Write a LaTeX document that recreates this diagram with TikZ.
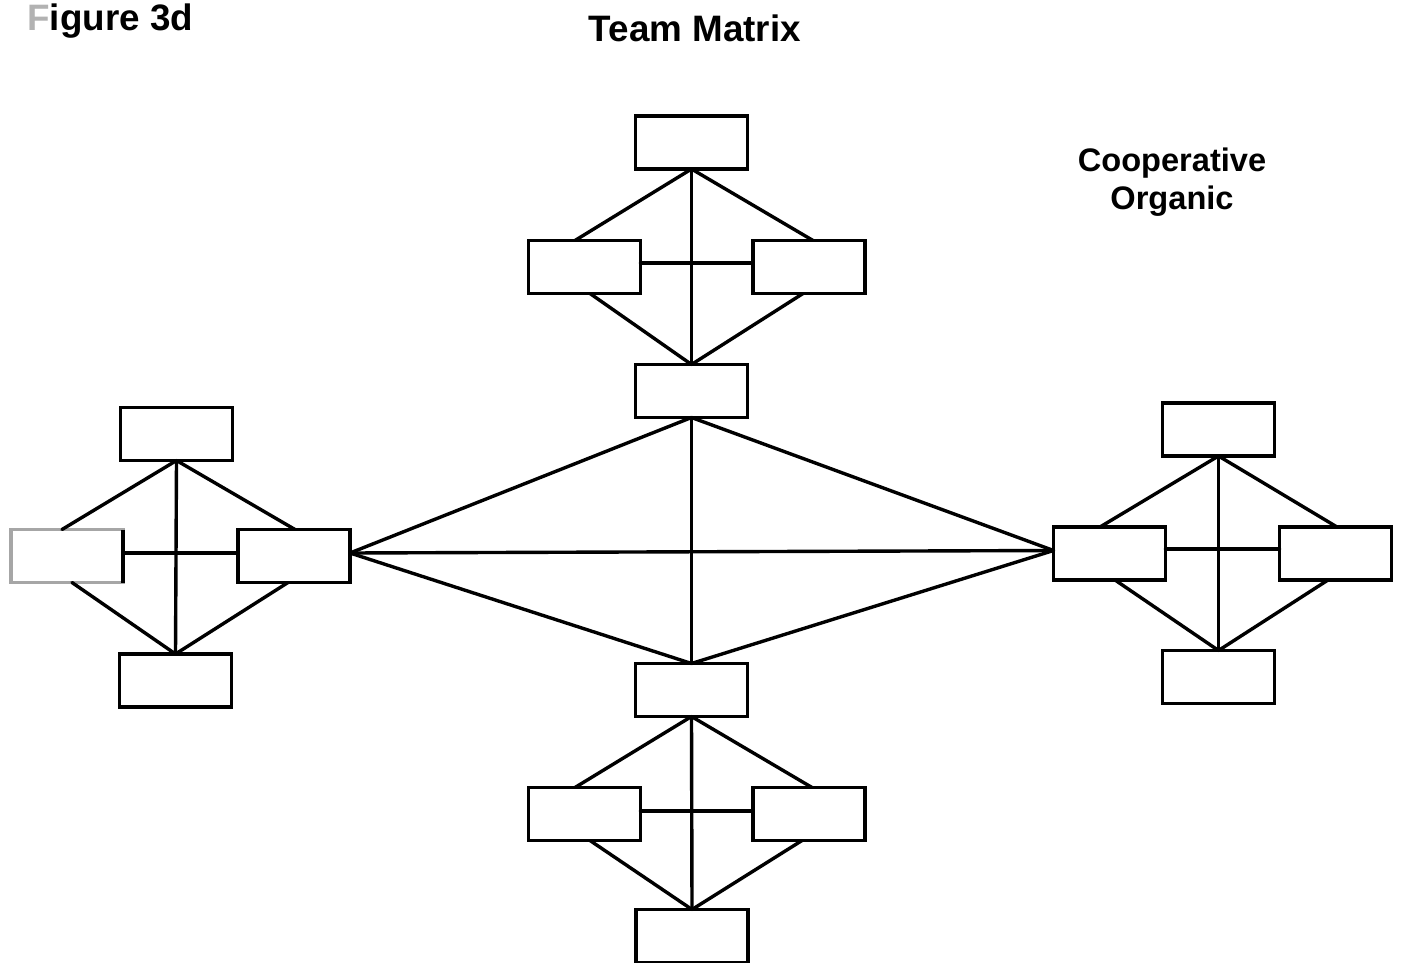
\documentclass[tikz,border=0pt]{standalone}
\usepackage{fontspec}
\setmainfont{Liberation Sans}
\begin{document}
\begin{tikzpicture}[x=0.5pt,y=-0.5pt,
  box/.style={draw, line width=1.7pt, rectangle, inner sep=0pt, outer sep=0pt,
              minimum width=56pt, minimum height=26.5pt, fill=white},
  faded/.style={box, draw=black!35},
  link/.style={line width=1.7pt, line cap=round},
  heading/.style={font=\bfseries\fontsize{18.4}{22}\selectfont, anchor=base, inner sep=0pt},
  tag/.style={font=\bfseries\fontsize{16.3}{19}\selectfont, anchor=base, inner sep=0pt}]
\useasboundingbox (0,0) rectangle (1403,963);

% headings
\node[heading, anchor=base west] (fig) at (27,31) {{\color{black!30}F}igure 3d};
\node[heading] (title) at (695,42) {Team Matrix};
\node[tag] (coop) at (1172,171) {Cooperative};
\node[tag] (org) at (1172,209) {Organic};

% top team
\node[box] (t1) at (691.5,142.5) {};
\node[box] (tl) at (584.5,267) {};
\node[box] (tr) at (809,267) {};
\node[box] (tb) at (691.5,391) {};

% bottom team
\node[box] (b1) at (691.5,690) {};
\node[box] (bl) at (584.5,814) {};
\node[box] (br) at (809,814) {};
\node[box] (b2) at (692,936) {};

% left team
\node[box] (l1) at (176.5,434) {};
\node[faded] (ll) at (67,556) {};
\node[box] (lr) at (294,556) {};
\node[box] (l2) at (175.5,680.5) {};

% right team
\node[box] (r1) at (1218.5,429.5) {};
\node[box] (rl) at (1109.5,553.5) {};
\node[box] (rr) at (1335.5,553.5) {};
\node[box] (r2) at (1218.5,677) {};

% faded outline of the far-left box, right edge kept dark
\draw[line width=1.7pt] (ll.north east) -- (ll.south east);

% top team links
\draw[link] (t1.south) -- ([xshift=-4.75pt]tl.north);
\draw[link] (t1.south) -- ([xshift=2pt]tr.north);
\draw[link] (t1.south) -- (tb.north);
\draw[link] ([xshift=2.75pt]tl.south) -- (tb.north);
\draw[link] ([xshift=-3pt]tr.south) -- (tb.north);
\draw[link] ([yshift=2pt]tl.east) -- ([yshift=2pt]tr.west);

% bottom team links
\draw[link] (b1.south) -- ([xshift=-4.75pt]bl.north);
\draw[link] (b1.south) -- ([xshift=1.5pt]br.north);
\draw[link] (b1.south) -- (b2.north);
\draw[link] ([xshift=2.75pt]bl.south) -- (b2.north);
\draw[link] ([xshift=-3.5pt]br.south) -- (b2.north);
\draw[link] ([yshift=1.5pt]bl.east) -- ([yshift=1.5pt]br.west);

% left team links
\draw[link] (l1.south) -- ([xshift=-2.5pt]ll.north);
\draw[link] (l1.south) -- ([xshift=0.5pt]lr.north);
\draw[link] (l1.south) -- (l2.north);
\draw[link] ([xshift=2.5pt]ll.south) -- (l2.north);
\draw[link] ([xshift=-3pt]lr.south) -- (l2.north);
\draw[link] ([yshift=1.5pt]ll.east) -- ([yshift=1.5pt]lr.west);

% right team links
\draw[link] (r1.south) -- ([xshift=-4.75pt]rl.north);
\draw[link] (r1.south) -- ([xshift=0.75pt]rr.north);
\draw[link] (r1.south) -- (r2.north);
\draw[link] ([xshift=2.75pt]rl.south) -- (r2.north);
\draw[link] ([xshift=-3.75pt]rr.south) -- (r2.north);
\draw[link] ([yshift=2.25pt]rl.east) -- ([yshift=2.25pt]rr.west);

% central matrix joining the four teams
\draw[link] (tb.south) -- ([yshift=1.5pt]lr.east);
\draw[link] (tb.south) -- ([yshift=1.5pt]rl.west);
\draw[link] (tb.south) -- (b1.north);
\draw[link] ([yshift=1.5pt]lr.east) -- ([yshift=1.5pt]rl.west);
\draw[link] ([yshift=1.5pt]lr.east) -- (b1.north);
\draw[link] ([yshift=1.5pt]rl.west) -- (b1.north);
\end{tikzpicture}
\end{document}
